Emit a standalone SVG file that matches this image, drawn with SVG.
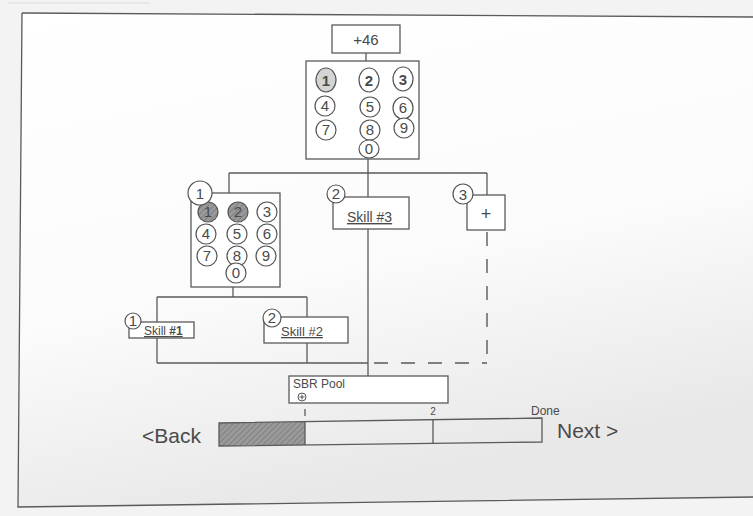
<svg xmlns="http://www.w3.org/2000/svg" width="753" height="516" viewBox="0 0 753 516">
<defs>
<linearGradient id="paper" x1="0" y1="0" x2="0.3" y2="1">
<stop offset="0" stop-color="#ffffff"/>
<stop offset="0.6" stop-color="#fbfbfb"/>
<stop offset="1" stop-color="#e8e8e8"/>
</linearGradient>
<pattern id="hatch" width="4" height="4" patternUnits="userSpaceOnUse" patternTransform="rotate(45)">
<rect width="4" height="4" fill="#9a9a9a"/>
<line x1="0" y1="0" x2="0" y2="4" stroke="#777" stroke-width="1.5"/>
</pattern>
<style>
.ln{stroke:#5a5a5a;stroke-width:1.3;fill:none}
.dash{stroke:#5a5a5a;stroke-width:1.4;fill:none;stroke-dasharray:14 13}
.box{stroke:#5a5a5a;stroke-width:1.3;fill:#ffffff}
.cir{stroke:#555;stroke-width:1.2;fill:#ffffff}
.sh{stroke:#555;stroke-width:1.2;fill:url(#hatch)}
.dg{font-family:"Liberation Sans",Arial,sans-serif;font-size:15px;fill:#4a4a4a;text-anchor:middle}
.lb{font-family:"Liberation Sans",Arial,sans-serif;fill:#4a4a4a}
</style>
</defs>
<rect x="0" y="0" width="753" height="516" fill="#f3f3f3"/>
<path d="M22,13 L753,17 L753,497 L18,507 Z" fill="url(#paper)"/>
<line x1="8" y1="3" x2="150" y2="3" stroke="#ddd" stroke-width="1"/>
<path d="M22,13 L753,17" class="ln" stroke-width="1"/>
<path d="M22,13 L18,507 L753,497" class="ln" stroke-width="1.6"/>

<g id="connectors">
<line class="ln" x1="366" y1="53" x2="366" y2="61"/>
<line class="ln" x1="368" y1="159" x2="368" y2="173"/>
<line class="ln" x1="229" y1="173" x2="487" y2="173"/>
<line class="ln" x1="229" y1="173" x2="229" y2="193"/>
<line class="ln" x1="368" y1="173" x2="368" y2="197"/>
<line class="ln" x1="487" y1="173" x2="487" y2="195"/>
<line class="ln" x1="233" y1="287" x2="233" y2="297"/>
<line class="ln" x1="157" y1="297" x2="307" y2="297"/>
<line class="ln" x1="157" y1="297" x2="157" y2="363"/>
<line class="ln" x1="307" y1="297" x2="307" y2="363"/>
<line class="ln" x1="157" y1="363" x2="368" y2="363"/>
<line class="ln" x1="368" y1="229" x2="368" y2="376"/>
<line class="dash" x1="374" y1="363" x2="487" y2="363"/>
<line class="dash" x1="487" y1="232" x2="487" y2="363"/>
</g>

<g id="node-top">
<rect class="box" x="332" y="25" width="68" height="28"/>
<text class="lb" x="366" y="45" font-size="15" text-anchor="middle">+46</text>
</g>

<g id="node-keypad">
<rect class="box" x="306" y="61" width="113" height="98"/>
<ellipse class="cir" cx="326" cy="80" rx="10" ry="12" style="fill:#d4d4d4"/>
<ellipse class="cir" cx="369" cy="80" rx="10" ry="12"/>
<ellipse class="cir" cx="403" cy="79" rx="10" ry="12"/>
<ellipse class="cir" cx="325" cy="106" rx="10" ry="10"/>
<ellipse class="cir" cx="370" cy="107" rx="10" ry="10"/>
<ellipse class="cir" cx="403" cy="108" rx="10" ry="11"/>
<ellipse class="cir" cx="326" cy="130" rx="10" ry="10"/>
<ellipse class="cir" cx="370" cy="130" rx="10" ry="10"/>
<ellipse class="cir" cx="404" cy="128" rx="10" ry="10"/>
<ellipse class="cir" cx="369" cy="149" rx="10" ry="9"/>
<text class="dg" x="326" y="86" font-size="18" font-weight="bold">1</text>
<text class="dg" x="369" y="86" font-size="18" font-weight="bold">2</text>
<text class="dg" x="403" y="85" font-size="18" font-weight="bold">3</text>
<text class="dg" x="325" y="111">4</text>
<text class="dg" x="370" y="112">5</text>
<text class="dg" x="403" y="113">6</text>
<text class="dg" x="326" y="135">7</text>
<text class="dg" x="370" y="135">8</text>
<text class="dg" x="404" y="133">9</text>
<text class="dg" x="369" y="154">0</text>
</g>

<g id="node-keypad-child">
<rect class="box" x="191" y="193" width="89" height="94"/>
<circle class="sh" cx="208" cy="212" r="10"/>
<circle class="sh" cx="238" cy="212" r="10"/>
<circle class="cir" cx="267" cy="212" r="10"/>
<circle class="cir" cx="206" cy="234" r="10"/>
<circle class="cir" cx="237" cy="234" r="10"/>
<circle class="cir" cx="267" cy="234" r="10"/>
<circle class="cir" cx="207" cy="256" r="10"/>
<circle class="cir" cx="237" cy="256" r="10"/>
<circle class="cir" cx="266" cy="256" r="10"/>
<circle class="cir" cx="236" cy="273" r="10"/>
<text class="dg" x="208" y="217">1</text>
<text class="dg" x="238" y="217">2</text>
<text class="dg" x="267" y="217">3</text>
<text class="dg" x="206" y="239">4</text>
<text class="dg" x="237" y="239">5</text>
<text class="dg" x="267" y="239">6</text>
<text class="dg" x="207" y="261">7</text>
<text class="dg" x="237" y="261">8</text>
<text class="dg" x="266" y="261">9</text>
<text class="dg" x="236" y="278">0</text>
<circle class="cir" cx="200" cy="193" r="12"/>
<text class="dg" x="200" y="199" font-size="16">1</text>
</g>

<g id="node-skill1">
<rect class="box" x="129" y="322" width="65" height="16"/>
<circle class="cir" cx="133" cy="321" r="8"/>
<text class="dg" x="133" y="326" font-size="12">1</text>
<text class="lb" x="144" y="335" font-size="12" text-decoration="underline">Skill <tspan font-weight="bold">#1</tspan></text>
</g>

<g id="node-skill2">
<rect class="box" x="264" y="317" width="84" height="26"/>
<circle class="cir" cx="272" cy="318" r="9"/>
<text class="dg" x="272" y="323" font-size="13">2</text>
<text class="lb" x="281" y="336" font-size="13" text-decoration="underline">Skill #2</text>
</g>

<g id="node-skill3">
<rect class="box" x="333" y="197" width="76" height="32"/>
<circle class="cir" cx="336" cy="194" r="9"/>
<text class="dg" x="336" y="199" font-size="14">2</text>
<text class="lb" x="347" y="222" font-size="14" text-decoration="underline">Skill #3</text>
</g>

<g id="node-plus">
<rect class="box" x="467" y="195" width="38" height="35"/>
<circle class="cir" cx="463" cy="194" r="10"/>
<text class="dg" x="463" y="200" font-size="15">3</text>
<text class="lb" x="486" y="220" font-size="18" text-anchor="middle">+</text>
</g>

<g id="node-pool">
<rect class="box" x="289" y="376" width="159" height="27"/>
<text class="lb" x="293" y="388" font-size="12">SBR Pool</text>
<circle cx="302" cy="397" r="4" fill="none" stroke="#555" stroke-width="1"/>
<path d="M299.5,397 H304.5 M302,394.5 V399.5" stroke="#555" stroke-width="1"/>
</g>

<g id="progress">
<path d="M219,423 L305,422 V445 L219,446 Z" fill="url(#hatch)" stroke="none"/>
<path d="M219,423 L542,418 L542,442 L219,446 Z" class="ln"/>
<line class="ln" x1="305" y1="422" x2="305" y2="445"/>
<line class="ln" x1="433" y1="420" x2="433" y2="443"/>
<line class="ln" x1="305" y1="409" x2="305" y2="416"/>
<text class="lb" x="433" y="415" font-size="10" text-anchor="middle">2</text>
<text class="lb" x="531" y="415" font-size="12">Done</text>
</g>

<g id="nav-back">
<text class="lb" x="142" y="443" font-size="21">&lt;Back</text>
</g>
<g id="nav-next">
<text class="lb" x="557" y="438" font-size="21">Next &gt;</text>
</g>
</svg>
